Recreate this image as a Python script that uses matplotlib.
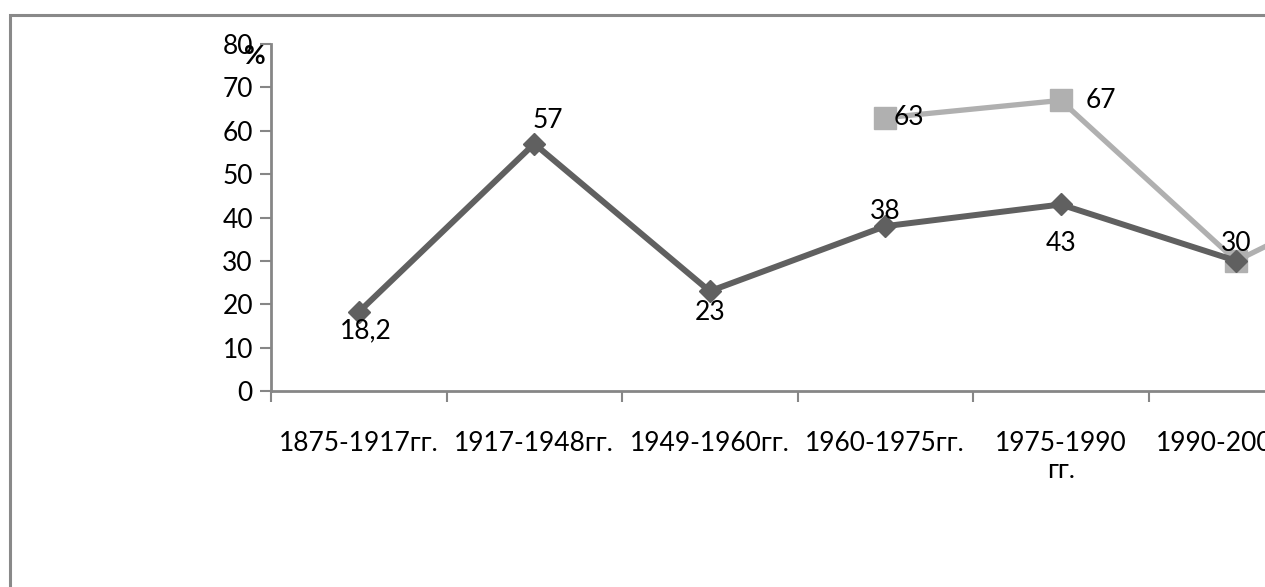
import numpy as np
import matplotlib
matplotlib.use("Agg")
import matplotlib.pyplot as plt
from matplotlib.patches import Rectangle

plt.rcParams['font.family'] = ['Lato', 'DejaVu Sans']

categories = ["1875-1917гг.", "1917-1948гг.", "1949-1960гг.", "1960-1975гг.",
              "1975-1990\nгг.", "1990-2000гг.", "2000-2010гг."]
series_dark = [18.2, 57, 23, 38, 43, 30, np.nan]
series_light = [np.nan, np.nan, np.nan, 63, 67, 30, 50]
labels_dark = ["18,2", "57", "23", "38", "43", "30", ""]
labels_light = ["", "", "", "63", "67", "30", ""]
yticks = [0, 10, 20, 30, 40, 50, 60, 70, 80]

W, H = 1265, 587
FS = 19
fig = plt.figure(figsize=(W / 100, H / 100), dpi=100)

# frame border
fig.patches.append(Rectangle((9.5 / W, -0.1), 1.2, (H - 14.5) / H + 0.1,
                             transform=fig.transFigure, fill=False,
                             edgecolor='#898989', lw=2.2, zorder=0))

cat_w = 175.5
ax = fig.add_axes([271 / W, 196 / H, 7 * cat_w / W, 347 / H])
ax.set_facecolor('none')
x = np.arange(len(categories))

ax.plot(x, series_light, color='#b0b0b0', lw=3.8, marker='s', markersize=16,
        zorder=3, clip_on=False)
ax.plot(x, series_dark, color='#606060', lw=4.3, marker='D', markersize=11.5,
        zorder=4, clip_on=False)

ax.set_xlim(-0.5, len(categories) - 0.5)
ax.set_ylim(0, 80)

for s in ['top', 'right']:
    ax.spines[s].set_visible(False)
for s in ['left', 'bottom']:
    ax.spines[s].set_color('#868686')
    ax.spines[s].set_linewidth(2)

ax.set_yticks(yticks)
ax.set_yticklabels([str(v) for v in yticks], fontsize=FS)
ax.tick_params(axis='y', length=8, width=1.5, color='#868686', pad=5)

ax.set_xticks(x)
ax.set_xticklabels(categories, fontsize=FS, linespacing=1.1, va='top')
ax.tick_params(axis='x', length=0, pad=29)
ax.set_xticks(np.arange(len(categories) + 1) - 0.5, minor=True)
ax.tick_params(axis='x', which='minor', length=8, width=1.5, color='#868686')

fig.text(255 / W, 1 - 56 / H, "%", fontsize=FS, fontweight='bold',
         ha='center', va='center')

off_dark = [(7, -19), (14, 23), (0, -21), (0, 15), (0, -39), (0, 17), (0, 0)]
off_light = [(0, 0), (0, 0), (0, 0), (24, 0), (40, 0), (0, 0), (0, 0)]
for i in range(len(categories)):
    if labels_dark[i]:
        ax.annotate(labels_dark[i], (x[i], series_dark[i]), xytext=off_dark[i],
                    textcoords='offset pixels', ha='center', va='center',
                    fontsize=FS, zorder=6)
    if labels_light[i] and labels_light[i] != labels_dark[i]:
        ax.annotate(labels_light[i], (x[i], series_light[i]), xytext=off_light[i],
                    textcoords='offset pixels', ha='center', va='center',
                    fontsize=FS, zorder=6)

fig.savefig("out.png", dpi=100)
